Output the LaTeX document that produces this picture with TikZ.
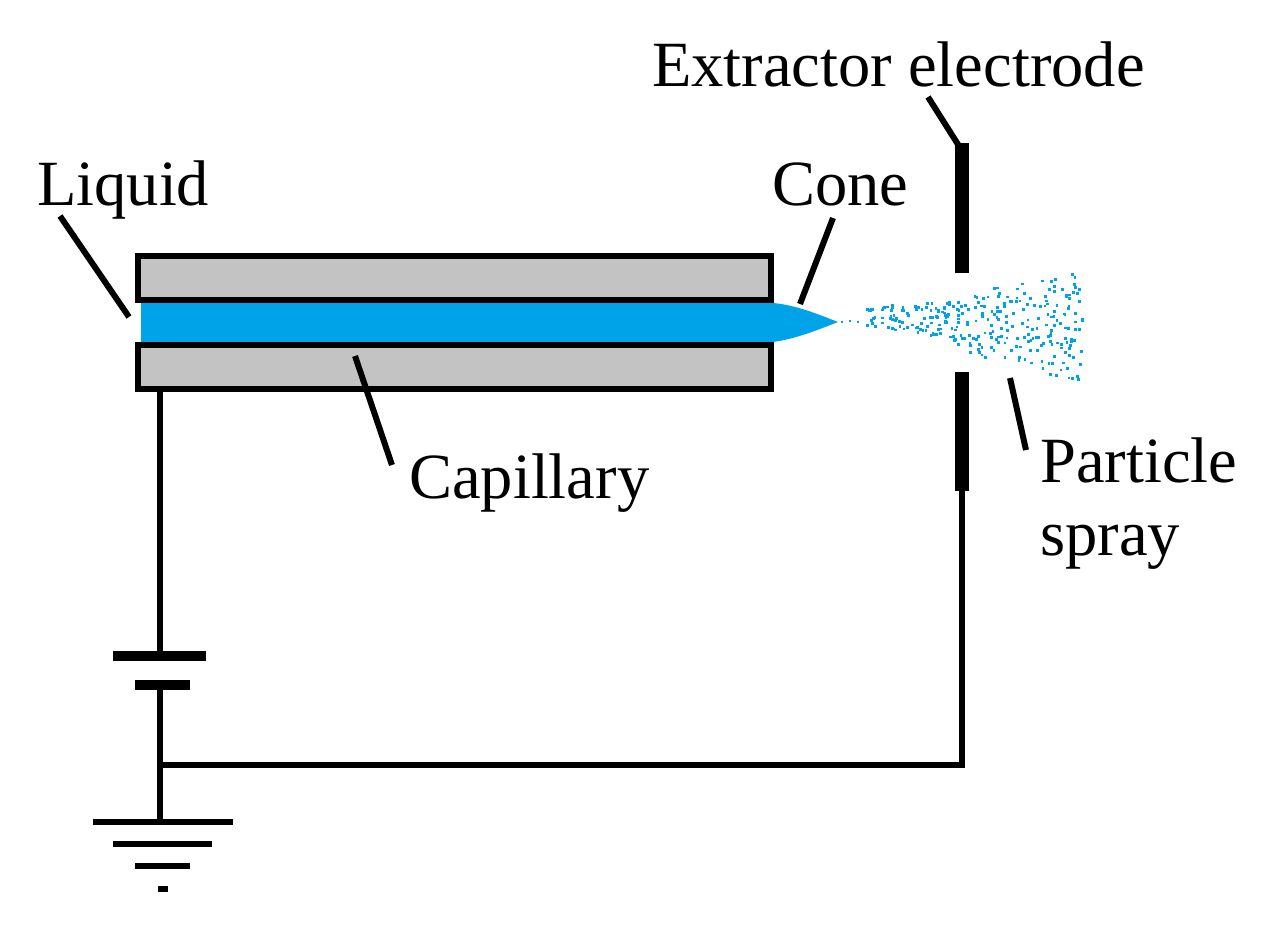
\documentclass[tikz,border=0pt]{standalone}
\usepackage{fontspec}
\setmainfont{Liberation Serif}
\definecolor{liq}{HTML}{00A2E8}
\definecolor{cap}{HTML}{C3C3C3}
\tikzset{
 px/.style={x=1pt,y=-1pt},
 label text/.style={anchor=base west,inner sep=0pt,font=\fontsize{64.5}{68}\selectfont,text=black},
 capwall/.style={draw=black,line width=6pt,fill=cap,rectangle,inner sep=0pt,minimum width=633pt,minimum height=44pt},
 wire/.style={draw=black,line width=6pt},
 leader/.style={draw=black,line width=6pt},
 plate/.style={fill=black,rectangle,inner sep=0pt},
 droplet/.style={fill=liq,draw=none}
}
\begin{document}
\begin{tikzpicture}[px]
\useasboundingbox (0,0) rectangle (1278,934);
% liquid
\fill[liq] (141,303) -- (773,303) .. controls (795,305) and (815,313) .. (838,322) .. controls (815,331) and (795,339) .. (773,342) -- (141,342) -- cycle;
% capillary
\node[capwall] (captop) at (454.5,278) {};
\node[capwall] (capbot) at (454.5,367) {};
% electrode
\node[plate,minimum width=14pt,minimum height=130pt] (elup) at (962,208) {};
\node[plate,minimum width=14pt,minimum height=119pt] (eldown) at (962,431.5) {};
% battery and ground
\node[plate,minimum width=93pt,minimum height=10pt] (batA) at (159.5,656) {};
\node[plate,minimum width=55pt,minimum height=10pt] (batB) at (162.5,684.5) {};
\node[plate,minimum width=140pt,minimum height=6pt] (gndA) at (162.5,822) {};
\node[plate,minimum width=99pt,minimum height=6pt] (gndB) at (162.5,844) {};
\node[plate,minimum width=55pt,minimum height=6pt] (gndC) at (162.5,866) {};
\node[plate,minimum width=10pt,minimum height=6pt] (gndD) at (162.5,888.5) {};
% wires
\coordinate (capdrop) at (160,390);
\coordinate (batAtop) at (160,652);
\coordinate (batBbot) at (160,689);
\coordinate (gndtop) at (160,820);
\coordinate (junction) at (160,765);
\coordinate (corner) at (962,765);
\coordinate (elbot) at (962,490);
\draw[wire] (capdrop) -- (batAtop);
\draw[wire] (batBbot) -- (gndtop);
\draw[wire,line cap=rect] (junction) -- (corner) -- (elbot);
% labels
\node[label text] (lbExt) at (652,87) {Extractor electrode};
\node[label text] (lbLiq) at (37,205) {Liquid};
\node[label text] (lbCone) at (772,205) {Cone};
\node[label text] (lbCap) at (409,498) {Capillary};
\node[label text] (lbPart) at (1040,482) {Particle};
\node[label text] (lbSpray) at (1040,555) {spray};
% leaders
\coordinate (aExt) at (928,97);   \coordinate (bExt) at (959,146);
\coordinate (aLiq) at (60,216);   \coordinate (bLiq) at (129,317);
\coordinate (aCone) at (833,218); \coordinate (bCone) at (800,304);
\coordinate (aCap) at (392,465);  \coordinate (bCap) at (355,356);
\coordinate (aPart) at (1026,450);\coordinate (bPart) at (1010,378);
\draw[leader] (aExt) -- (bExt);
\draw[leader] (aLiq) -- (bLiq);
\draw[leader] (aCone) -- (bCone);
\draw[leader] (aCap) -- (bCap);
\draw[leader] (aPart) -- (bPart);
% spray
\pgfmathsetseed{4711}
\foreach \px/\py in {842/322,850/321,858/322}
  \fill[droplet] (\px-1,\py-1) rectangle (\px+1,\py+1);
% dense neck
\foreach \i in {1,...,85}{
  \pgfmathsetmacro{\dx}{867+rnd*80}
  \pgfmathsetmacro{\dt}{(\dx-860)*0.14+8}
  \pgfmathsetmacro{\dy}{318+(2*rnd-1)*\dt}
  \fill[droplet] (\dx-1.4,\dy-1.4) rectangle (\dx+1.4,\dy+1.4);
}
% wide part
\foreach \i in {1,...,215}{
  \pgfmathsetmacro{\dx}{945+rnd*138}
  \pgfmathsetmacro{\du}{rnd}
  \pgfmathsetmacro{\dy}{(322-(\dx-855)*0.24)*(1-\du)+(322+(\dx-855)*0.27)*\du}
  \fill[droplet] (\dx-1.4,\dy-1.4) rectangle (\dx+1.4,\dy+1.4);
}
\end{tikzpicture}
\end{document}
